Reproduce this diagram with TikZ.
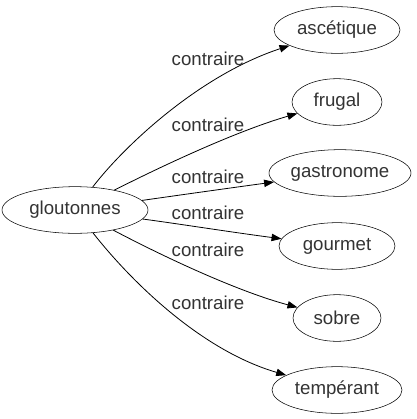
\documentclass[tikz,border=0pt]{standalone}
\usepackage{fontspec}
\setmainfont{Liberation Sans}
\usetikzlibrary{arrows.meta,shapes.geometric}
\begin{document}
\begin{tikzpicture}[x=0.75pt,y=-0.75pt,
  word/.style={draw,ellipse,inner sep=0pt,minimum height=35pt,font=\fontsize{14pt}{16pt}\selectfont,text=black!80},
  lab/.style={font=\fontsize{14pt}{16pt}\selectfont,text=black!80,inner sep=0pt},
  rel/.style={draw,line width=0.6pt,-{Triangle[length=7.5pt,width=5.5pt]}}]
\useasboundingbox (0,0) rectangle (417,419);
\node[word,minimum width=109.5pt] (g) at (75,210) {gloutonnes};
\node[word,minimum width=94.5pt] (n1) at (337,30) {ascétique};
\node[word,minimum width=67.5pt] (n2) at (337,102) {frugal};
\node[word,minimum width=106.5pt] (n3) at (340,173) {gastronome};
\node[word,minimum width=87pt] (n4) at (337,246) {gourmet};
\node[word,minimum width=66pt] (n5) at (337,318) {sobre};
\node[word,minimum width=97.5pt] (n6) at (337,390) {tempérant};
\draw[rel] (g) .. controls (125,145) and (200,75) .. (n1);
\draw[rel] (g) .. controls (170,162) and (240,130) .. (n2);
\draw[rel] (g) .. controls (180,195) and (230,188) .. (n3);
\draw[rel] (g) .. controls (180,224) and (230,232) .. (n4);
\draw[rel] (g) .. controls (170,260) and (240,292) .. (n5);
\draw[rel] (g) .. controls (130,280) and (200,350) .. (n6);
\node[lab] (l1) at (208,59) {contraire};
\node[lab] (l2) at (208,125) {contraire};
\node[lab] (l3) at (208,177) {contraire};
\node[lab] (l4) at (208,213) {contraire};
\node[lab] (l5) at (208,250) {contraire};
\node[lab] (l6) at (208,303) {contraire};
\end{tikzpicture}
\end{document}
